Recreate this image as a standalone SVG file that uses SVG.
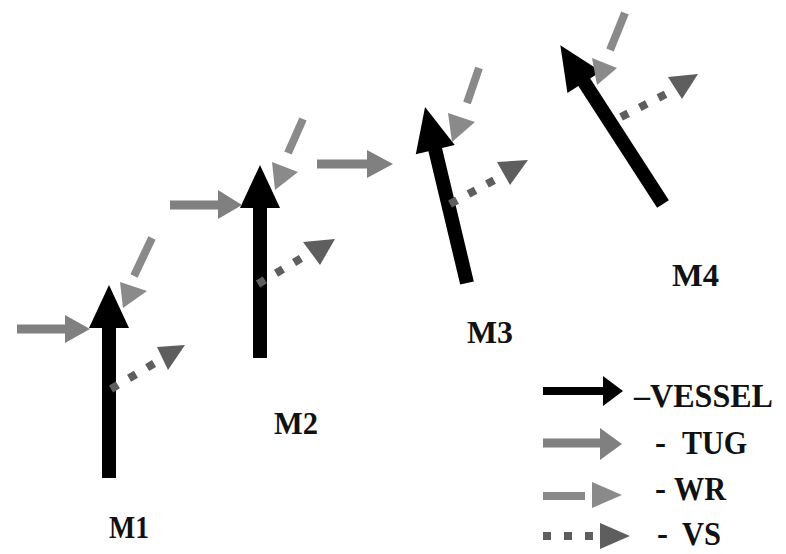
<svg xmlns="http://www.w3.org/2000/svg" width="786" height="554" viewBox="0 0 786 554">
  <style>
    .vessel { fill: #000; }
    .tug { stroke: #808080; stroke-width: 9; fill: none; }
    .tug-head { fill: #808080; }
    .wr { stroke: #8a8a8a; stroke-width: 8; fill: none; }
    .wr-head { fill: #8a8a8a; }
    .vs { stroke: #5e5e5e; stroke-width: 8; stroke-dasharray: 8 13; fill: none; }
    .vs-head { fill: #5e5e5e; }
    .label { font-family: "Liberation Serif", "Times New Roman", serif; font-weight: bold; font-size: 32px; fill: #111; }
    .key { font-family: "Liberation Serif", "Times New Roman", serif; font-weight: bold; font-size: 33px; fill: #111; }
  </style>
  <rect width="786" height="554" fill="#fff"/>

  <!-- position M1 -->
  <g id="m1">
    <g class="vessel">
      <rect x="102" y="327" width="14" height="151"/>
      <polygon points="109,285 89,328 129,328"/>
    </g>
    <line class="tug" x1="17" y1="329" x2="66" y2="329"/>
    <polygon class="tug-head" points="65,315 90,329 65,343"/>
    <line class="wr" x1="152" y1="238" x2="134" y2="276"/>
    <polygon class="wr-head" points="120,282 147,291 123,308"/>
    <line class="vs" x1="111" y1="389" x2="160" y2="360"/>
    <polygon class="vs-head" points="157,347 185,345 168,370"/>
    <text class="label" x="109" y="538" textLength="40" lengthAdjust="spacingAndGlyphs">M1</text>
  </g>

  <!-- position M2 -->
  <g id="m2">
    <g class="vessel">
      <rect x="253" y="207" width="14" height="151"/>
      <polygon points="260,165 240,208 280,208"/>
    </g>
    <line class="tug" x1="170" y1="205" x2="219" y2="205"/>
    <polygon class="tug-head" points="218,190 242,205 218,219"/>
    <line class="wr" x1="303" y1="119" x2="288" y2="153"/>
    <polygon class="wr-head" points="272,162 298,172 275,190"/>
    <line class="vs" x1="258" y1="284" x2="305" y2="256"/>
    <polygon class="vs-head" points="303,242 335,239 320,265"/>
    <text class="label" x="274" y="434" textLength="44" lengthAdjust="spacingAndGlyphs">M2</text>
  </g>

  <!-- position M3 -->
  <g id="m3">
    <g class="vessel" transform="rotate(-13.4 467 283)">
      <rect x="460" y="145" width="14" height="138"/>
      <polygon points="467,102 447,146 487,146"/>
    </g>
    <line class="tug" x1="317" y1="164" x2="368" y2="164"/>
    <polygon class="tug-head" points="367,150 393,164 367,178"/>
    <line class="wr" x1="479" y1="68" x2="467" y2="103"/>
    <polygon class="wr-head" points="448,113 475,122 452,142"/>
    <line class="vs" x1="450" y1="204" x2="498" y2="178"/>
    <polygon class="vs-head" points="497,162 528,160 510,185"/>
    <text class="label" x="467" y="343" textLength="46" lengthAdjust="spacingAndGlyphs">M3</text>
  </g>

  <!-- position M4 -->
  <g id="m4">
    <g class="vessel" transform="rotate(-32.9 663 204)">
      <rect x="656" y="58" width="14" height="146"/>
      <polygon points="663,15 643,59 683,59"/>
    </g>
    <line class="wr" x1="625" y1="13" x2="610" y2="50"/>
    <polygon class="wr-head" points="592,58 617,68 597,85"/>
    <line class="vs" x1="621" y1="117" x2="668" y2="93"/>
    <polygon class="vs-head" points="668,77 698,74 682,99"/>
    <text class="label" x="672" y="286" textLength="47" lengthAdjust="spacingAndGlyphs">M4</text>
  </g>

  <!-- key -->
  <g id="legend">
    <line x1="543" y1="391" x2="604" y2="391" stroke="#000" stroke-width="8"/>
    <polygon class="vessel" points="603,376 623,391 603,406"/>
    <text class="key" x="634" y="407" font-size="35" textLength="139" lengthAdjust="spacingAndGlyphs">–VESSEL</text>

    <line class="tug" x1="543" y1="443" x2="601" y2="443" stroke-width="10"/>
    <polygon class="tug-head" points="600,428 622,444 600,460"/>
    <text class="key" x="655" y="454">- <tspan x="682" textLength="65" lengthAdjust="spacingAndGlyphs">TUG</tspan></text>

    <line class="wr" x1="543" y1="496" x2="585" y2="496"/>
    <polygon class="wr-head" points="592,482 622,495 592,508"/>
    <text class="key" x="655" y="500">- <tspan x="674" textLength="52" lengthAdjust="spacingAndGlyphs">WR</tspan></text>

    <line class="vs" x1="543" y1="536" x2="595" y2="536" stroke-width="9" stroke-dasharray="12 8"/>
    <polygon class="vs-head" points="600,523 630,536 600,549"/>
    <text class="key" x="657" y="545">- <tspan x="682" textLength="39" lengthAdjust="spacingAndGlyphs">VS</tspan></text>
  </g>
</svg>
